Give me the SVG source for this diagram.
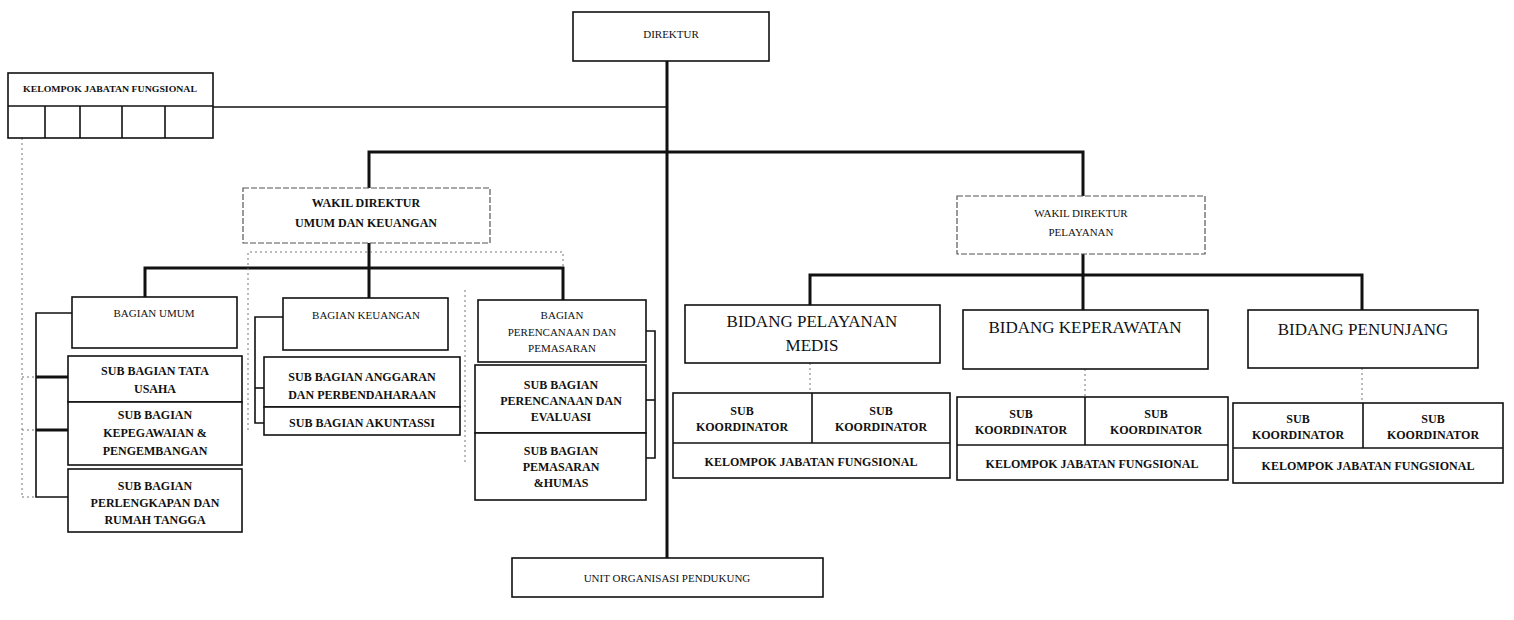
<svg xmlns="http://www.w3.org/2000/svg" width="1514" height="620" viewBox="0 0 1514 620">
<style>
.box{fill:#fff;stroke:#111;stroke-width:1.6}
.dbox{fill:#fff;stroke:#555;stroke-width:1.2;stroke-dasharray:6 2}
.t{font-family:"Liberation Serif",serif;fill:#111;text-anchor:middle}
.s{font-size:11px}
.b{font-size:12px;font-weight:bold}
.l{font-size:17px}
.k{font-size:8px;font-weight:bold}
.thick{stroke:#111;stroke-width:3;fill:none}
.thin{stroke:#111;stroke-width:1.6;fill:none}
.dot{stroke:#777;stroke-width:1;stroke-dasharray:2 3;fill:none}
</style>
<rect width="1514" height="620" fill="#fff"/>
<g id="connectors">
<line class="thick" x1="667" y1="61" x2="667" y2="558"/>
<line class="thin" x1="213" y1="107" x2="667" y2="107"/>
<polyline class="thick" points="369,188 369,152 1083,152 1083,196"/>
<line class="thick" x1="369" y1="243" x2="369" y2="268"/>
<polyline class="thick" points="145,297 145,268 563,268 563,300"/>
<line class="thick" x1="1083" y1="254" x2="1083" y2="275"/>
<polyline class="thick" points="810,305 810,275 1362,275 1362,310"/>
<line class="thick" x1="1083" y1="275" x2="1083" y2="310"/>
<line class="thick" x1="369" y1="268" x2="369" y2="298"/>
<polyline class="thin" points="72,313 36,313 36,497 68,497"/>
<line class="thick" x1="36" y1="377" x2="68" y2="377"/>
<line class="thick" x1="36" y1="430" x2="68" y2="430"/>
<polyline class="thin" points="283,317 255,317 255,423 264,423"/>
<line class="thin" x1="255" y1="388" x2="264" y2="388"/>
<polyline class="thin" points="646,331 655,331 655,458 646,458"/>
<line class="thin" x1="646" y1="400" x2="655" y2="400"/>
<line class="dot" x1="22" y1="138" x2="22" y2="497"/>
<line class="dot" x1="22" y1="377" x2="36" y2="377"/>
<line class="dot" x1="22" y1="430" x2="36" y2="430"/>
<line class="dot" x1="22" y1="497" x2="36" y2="497"/>
<polyline class="dot" points="248,430 248,252 563,252 563,268"/>
<line class="dot" x1="465" y1="290" x2="465" y2="462"/>
<line class="dot" x1="810" y1="363" x2="810" y2="393"/>
<line class="dot" x1="1085" y1="369" x2="1085" y2="397"/>
<line class="dot" x1="1362" y1="368" x2="1362" y2="403"/>
</g>
<g id="direktur">
<rect class="box" x="573" y="12" width="196" height="49"/>
<text class="t s" x="671" y="38">DIREKTUR</text>
</g>
<g id="kelompok-atas">
<rect class="box" x="8" y="73" width="205" height="65"/>
<line class="thin" x1="8" y1="106" x2="213" y2="106"/>
<line class="thin" x1="45" y1="106" x2="45" y2="138"/>
<line class="thin" x1="80" y1="106" x2="80" y2="138"/>
<line class="thin" x1="122" y1="106" x2="122" y2="138"/>
<line class="thin" x1="165" y1="106" x2="165" y2="138"/>
<text class="t k" x="110" y="92" textLength="174" lengthAdjust="spacingAndGlyphs">KELOMPOK JABATAN FUNGSIONAL</text>
</g>
<g id="wadir-umum">
<rect class="dbox" x="243" y="188" width="247" height="55"/>
<text class="t b" x="366" y="207">WAKIL DIREKTUR</text>
<text class="t b" x="366" y="227">UMUM DAN KEUANGAN</text>
</g>
<g id="wadir-pelayanan">
<rect class="dbox" x="957" y="196" width="248" height="58"/>
<text class="t s" x="1081" y="217">WAKIL DIREKTUR</text>
<text class="t s" x="1081" y="236">PELAYANAN</text>
</g>
<g id="bagian-umum">
<rect class="box" x="72" y="297" width="165" height="51"/>
<text class="t s" x="154" y="317">BAGIAN UMUM</text>
</g>
<g id="sub-tata-usaha">
<rect class="box" x="68" y="356" width="174" height="46"/>
<text class="t b" x="155" y="375">SUB BAGIAN TATA</text>
<text class="t b" x="155" y="393">USAHA</text>
</g>
<g id="sub-kepegawaian">
<rect class="box" x="68" y="402" width="174" height="63"/>
<text class="t b" x="155" y="419">SUB BAGIAN</text>
<text class="t b" x="155" y="437">KEPEGAWAIAN &amp;</text>
<text class="t b" x="155" y="455">PENGEMBANGAN</text>
</g>
<g id="sub-perlengkapan">
<rect class="box" x="68" y="469" width="174" height="63"/>
<text class="t b" x="155" y="490">SUB BAGIAN</text>
<text class="t b" x="155" y="507">PERLENGKAPAN DAN</text>
<text class="t b" x="155" y="524">RUMAH TANGGA</text>
</g>
<g id="bagian-keuangan">
<rect class="box" x="283" y="298" width="165" height="52"/>
<text class="t s" x="366" y="319">BAGIAN KEUANGAN</text>
</g>
<g id="sub-anggaran">
<rect class="box" x="264" y="357" width="196" height="50"/>
<text class="t b" x="362" y="381">SUB BAGIAN ANGGARAN</text>
<text class="t b" x="362" y="399">DAN PERBENDAHARAAN</text>
</g>
<g id="sub-akuntansi">
<rect class="box" x="264" y="407" width="196" height="28"/>
<text class="t b" x="362" y="427">SUB BAGIAN AKUNTASSI</text>
</g>
<g id="bagian-perencanaan">
<rect class="box" x="478" y="300" width="168" height="62"/>
<text class="t s" x="562" y="319">BAGIAN</text>
<text class="t s" x="562" y="336">PERENCANAAN DAN</text>
<text class="t s" x="562" y="352">PEMASARAN</text>
</g>
<g id="sub-perencanaan">
<rect class="box" x="475" y="365" width="171" height="68"/>
<text class="t b" x="561" y="389">SUB BAGIAN</text>
<text class="t b" x="561" y="405">PERENCANAAN DAN</text>
<text class="t b" x="561" y="421">EVALUASI</text>
</g>
<g id="sub-pemasaran">
<rect class="box" x="475" y="433" width="171" height="67"/>
<text class="t b" x="561" y="455">SUB BAGIAN</text>
<text class="t b" x="561" y="471">PEMASARAN</text>
<text class="t b" x="561" y="487">&amp;HUMAS</text>
</g>
<g id="bidang-medis">
<rect class="box" x="685" y="305" width="255" height="58"/>
<text class="t l" x="812" y="327">BIDANG PELAYANAN</text>
<text class="t l" x="812" y="351">MEDIS</text>
</g>
<g id="sub-medis">
<rect class="box" x="673" y="393" width="277" height="85"/>
<line class="thin" x1="812" y1="393" x2="812" y2="443"/>
<line class="thin" x1="673" y1="443" x2="950" y2="443"/>
<text class="t b" x="742" y="415">SUB</text>
<text class="t b" x="742" y="431">KOORDINATOR</text>
<text class="t b" x="881" y="415">SUB</text>
<text class="t b" x="881" y="431">KOORDINATOR</text>
<text class="t b" x="811" y="466">KELOMPOK JABATAN FUNGSIONAL</text>
</g>
<g id="bidang-keperawatan">
<rect class="box" x="963" y="310" width="245" height="59"/>
<text class="t l" x="1085" y="333">BIDANG KEPERAWATAN</text>
</g>
<g id="sub-keperawatan">
<rect class="box" x="957" y="397" width="271" height="83"/>
<line class="thin" x1="1085" y1="397" x2="1085" y2="445"/>
<line class="thin" x1="957" y1="445" x2="1228" y2="445"/>
<text class="t b" x="1021" y="418">SUB</text>
<text class="t b" x="1021" y="434">KOORDINATOR</text>
<text class="t b" x="1156" y="418">SUB</text>
<text class="t b" x="1156" y="434">KOORDINATOR</text>
<text class="t b" x="1092" y="468">KELOMPOK JABATAN FUNGSIONAL</text>
</g>
<g id="bidang-penunjang">
<rect class="box" x="1248" y="310" width="230" height="58"/>
<text class="t l" x="1363" y="335">BIDANG PENUNJANG</text>
</g>
<g id="sub-penunjang">
<rect class="box" x="1233" y="403" width="270" height="80"/>
<line class="thin" x1="1363" y1="403" x2="1363" y2="448"/>
<line class="thin" x1="1233" y1="448" x2="1503" y2="448"/>
<text class="t b" x="1298" y="423">SUB</text>
<text class="t b" x="1298" y="439">KOORDINATOR</text>
<text class="t b" x="1433" y="423">SUB</text>
<text class="t b" x="1433" y="439">KOORDINATOR</text>
<text class="t b" x="1368" y="470">KELOMPOK JABATAN FUNGSIONAL</text>
</g>
<g id="unit-pendukung">
<rect class="box" x="512" y="558" width="311" height="39"/>
<text class="t s" x="667" y="582">UNIT ORGANISASI PENDUKUNG</text>
</g>
</svg>
